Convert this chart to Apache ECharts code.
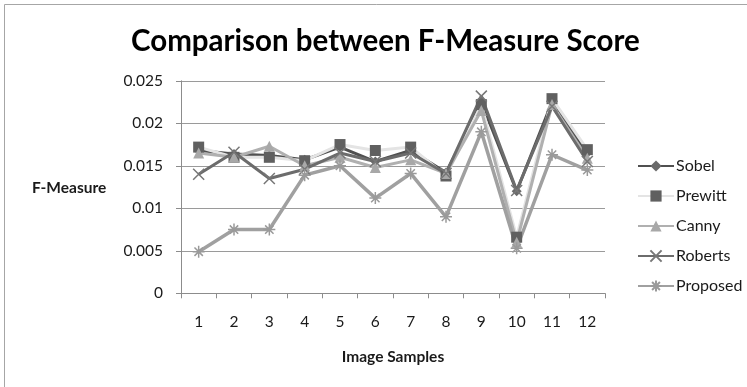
<!DOCTYPE html>
<html>
<head>
<meta charset="utf-8">
<script src="https://cdn.jsdelivr.net/npm/echarts@6/dist/echarts.min.js"></script>
<style>
  html, body { margin: 0; padding: 0; background: #fff; }
  #chart { width: 747px; height: 387px; }
</style>
</head>
<body>
<div id="chart"></div>
<script>
// Image sample indices along the x axis
const samples = ['1', '2', '3', '4', '5', '6', '7', '8', '9', '10', '11', '12'];

// F-Measure score per edge detector
const sobel    = [0.0168, 0.0164, 0.0162, 0.0157, 0.0172, 0.0155, 0.0168, 0.0142, 0.0225, 0.0120, 0.0225, 0.0165];
const prewitt  = [0.0172, 0.0160, 0.0160, 0.0156, 0.0175, 0.0168, 0.0172, 0.0138, 0.0222, 0.0066, 0.0229, 0.0169];
const canny    = [0.0165, 0.0160, 0.0173, 0.0150, 0.0160, 0.0148, 0.0157, 0.0141, 0.0215, 0.0060, 0.0222, 0.0159];
const roberts  = [0.0140, 0.0166, 0.0135, 0.0146, 0.0165, 0.0155, 0.0165, 0.0141, 0.0232, 0.0121, 0.0220, 0.0155];
const proposed = [0.0049, 0.0075, 0.0075, 0.0139, 0.0150, 0.0112, 0.0141, 0.0090, 0.0190, 0.0053, 0.0163, 0.0145];

// Y axis tick range
const yMin = 0, yMax = 0.025, yStep = 0.005;

const FONT = 'Lato';
const TEXT = '#1a1a1a';
const crossPath = 'path://M0,0L10,10M10,0L0,10';
const starPath = 'path://M0,5L10,5M5,0L5,10M1.5,1.5L8.5,8.5M8.5,1.5L1.5,8.5';

function lineSeries(name, data, lineColor, lineWidth, symbol, symbolSize, markColor, stroked) {
  return {
    name: name,
    type: 'line',
    data: data,
    symbol: symbol,
    symbolSize: symbolSize,
    showAllSymbol: true,
    lineStyle: { color: lineColor, width: lineWidth },
    itemStyle: stroked
      ? { color: 'rgba(0,0,0,0)', borderColor: markColor, borderWidth: 1.5 }
      : { color: markColor, borderWidth: 0 },
    emphasis: { disabled: true },
    animation: false
  };
}

const chart = echarts.init(document.getElementById('chart'), null, { renderer: 'canvas' });
chart.setOption({
  backgroundColor: '#ffffff',
  title: {
    text: 'Comparison between F-Measure Score',
    left: 126,
    top: 21,
    textStyle: { fontFamily: FONT, fontSize: 29.5, fontWeight: 'bold', color: '#000' }
  },
  graphic: [
    {
      type: 'rect',
      shape: { x: 4.5, y: 4.5, width: 760, height: 400 },
      style: { fill: 'none', stroke: '#a6a6a6', lineWidth: 1 },
      silent: true
    },
    {
      type: 'text',
      x: 32,
      y: 188,
      style: { text: 'F-Measure', font: 'bold 15.5px Lato', fill: TEXT, verticalAlign: 'middle' }
    }
  ],
  legend: {
    orient: 'vertical',
    left: 632,
    top: 153,
    itemGap: 14,
    itemWidth: 36,
    itemHeight: 14,
    textStyle: { fontFamily: FONT, fontSize: 16, color: TEXT, padding: [0, 0, 0, -3] },
    data: ['Sobel', 'Prewitt', 'Canny', 'Roberts', 'Proposed']
  },
  grid: { left: 181, right: 142, top: 80.8, bottom: 93.7, containLabel: false },
  xAxis: {
    type: 'category',
    data: samples,
    boundaryGap: true,
    name: 'Image Samples',
    nameLocation: 'middle',
    nameGap: 56,
    nameTextStyle: { fontFamily: FONT, fontSize: 15.5, fontWeight: 'bold', color: TEXT },
    axisLine: { lineStyle: { color: '#8c8c8c', width: 1 } },
    axisTick: { show: true, alignWithLabel: false, length: 5, lineStyle: { color: '#8c8c8c' } },
    axisLabel: { fontFamily: FONT, fontSize: 15.5, color: TEXT, margin: 21 },
    splitLine: { show: false }
  },
  yAxis: {
    type: 'value',
    min: yMin,
    max: yMax,
    interval: yStep,
    axisLine: { show: true, lineStyle: { color: '#8c8c8c', width: 1 } },
    axisTick: { show: true, length: 5, lineStyle: { color: '#8c8c8c' } },
    axisLabel: { fontFamily: FONT, fontSize: 15.5, color: TEXT, margin: 18 },
    splitLine: { show: true, lineStyle: { color: '#9a9a9a', width: 1 } }
  },
  series: [
    lineSeries('Sobel', sobel, '#505050', 3, 'diamond', 10, '#6a6a6a', false),
    lineSeries('Prewitt', prewitt, '#e4e4e4', 3, 'rect', 11, '#606060', false),
    lineSeries('Canny', canny, '#b0b0b0', 3, 'triangle', 11, '#a8a8a8', false),
    lineSeries('Roberts', roberts, '#6c6c6c', 3, crossPath, 11, '#777777', true),
    lineSeries('Proposed', proposed, '#a0a0a0', 3.5, starPath, 12, '#9a9a9a', true)
  ]
});
</script>
</body>
</html>
